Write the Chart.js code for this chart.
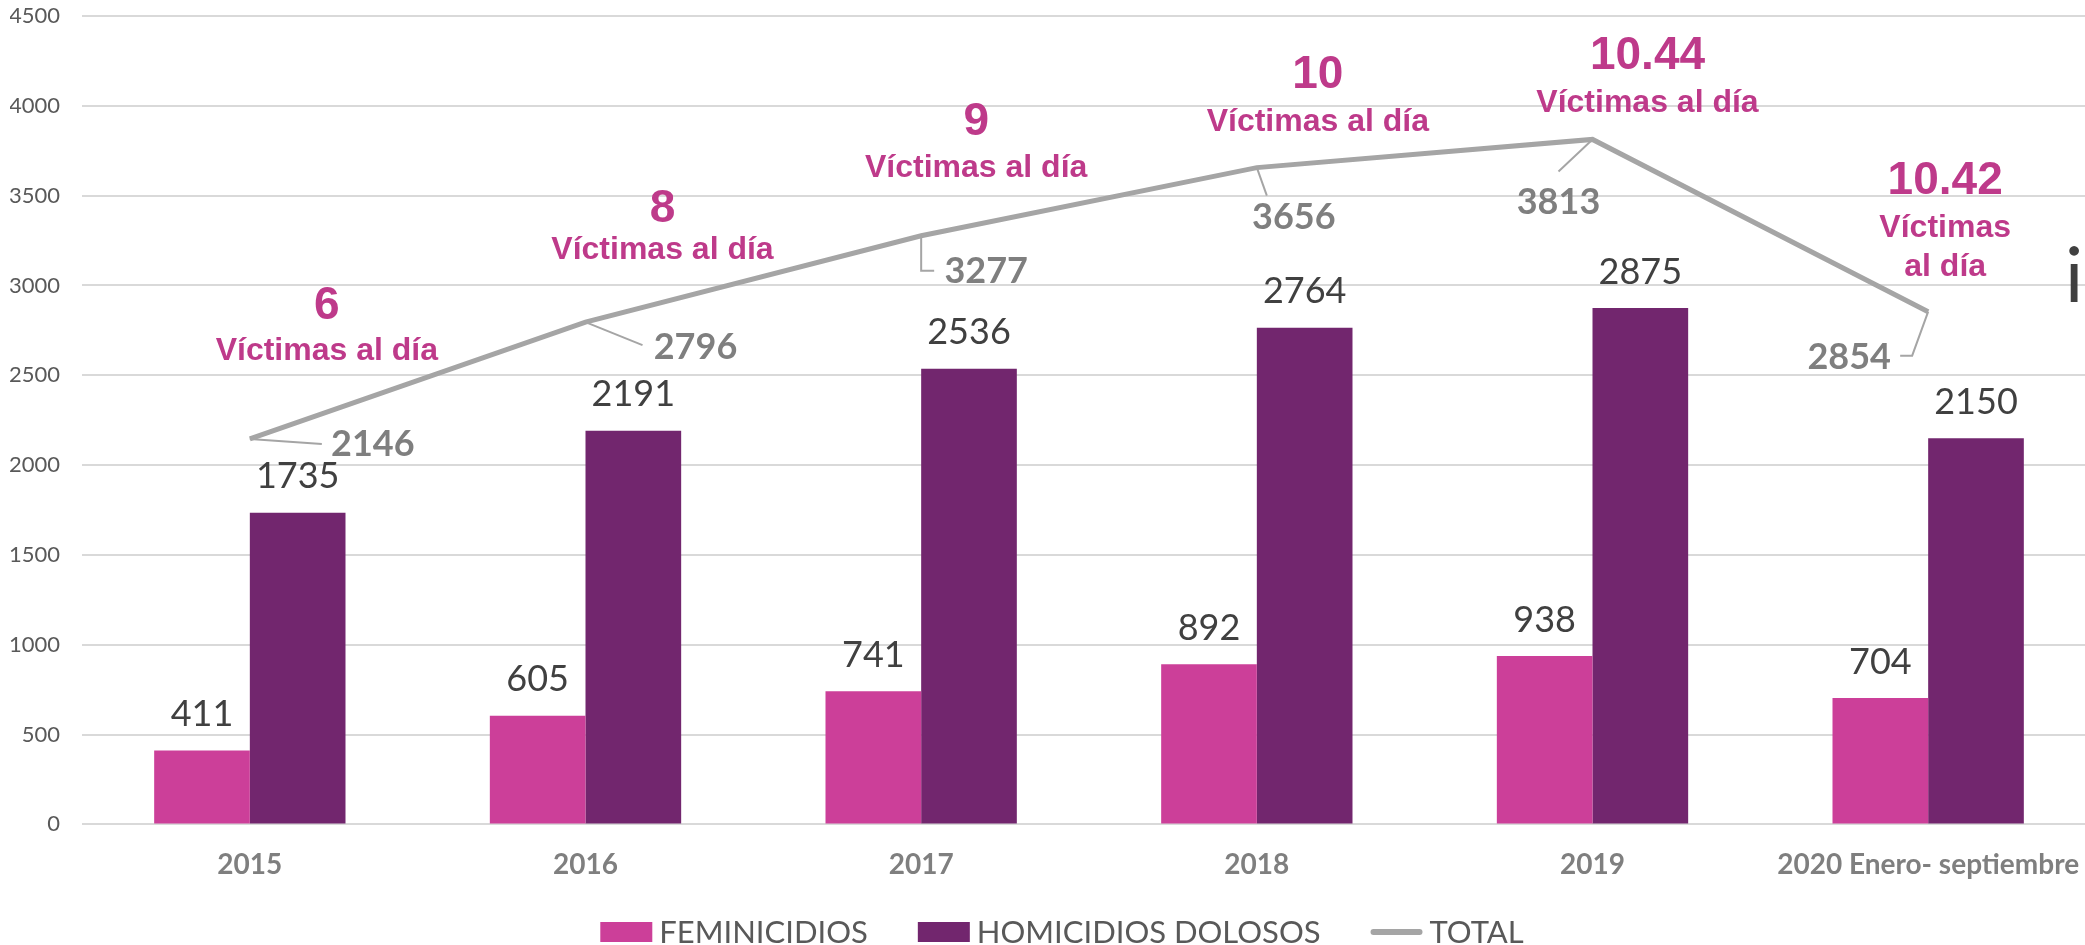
<!DOCTYPE html>
<html>
<head>
<meta charset="utf-8">
<script src="https://cdn.jsdelivr.net/npm/chart.js@4.4.0/dist/chart.umd.min.js"></script>
<style>
  html, body { margin: 0; padding: 0; background: #fff; overflow: hidden; }
  #wrap { width: 2100px; height: 945px; }
</style>
</head>
<body>
<div id="wrap"><canvas id="chart"></canvas></div>
<script>
const years = ['2015', '2016', '2017', '2018', '2019', '2020 Enero- septiembre'];
const feminicidios = [411, 605, 741, 892, 938, 704];
const homicidios = [1735, 2191, 2536, 2764, 2875, 2150];
const totals = [2146, 2796, 3277, 3656, 3813, 2854];
const victimasDia = ['6', '8', '9', '10', '10.44', '10.42'];
const victimasText = [
  ['Víctimas al día'], ['Víctimas al día'], ['Víctimas al día'],
  ['Víctimas al día'], ['Víctimas al día'], ['Víctimas', 'al día']
];

const PINK = '#CC3F99';
const PURPLE = '#72266E';
const GREY_LINE = '#A5A5A5';
const MAGENTA = '#BE3A8A';

// where each annotation sits relative to its TOTAL point
const victimLayout = [
  { dx: 77, big: -133, lines: [-88] },
  { dx: 77, big: -113, lines: [-72] },
  { dx: 55, big: -113, lines: [-68] },
  { dx: 61, big: -92, lines: [-45] },
  { dx: 55, big: -83, lines: [-36] },
  { dx: 17, big: -130, lines: [-84, -45] }
];
const totalLayout = [
  { leader: [[72, 5]], dx: 123, dy: 6 },
  { leader: [[57, 23]], dx: 110, dy: 25 },
  { leader: [[0, 35], [13, 35]], dx: 65, dy: 36 },
  { leader: [[10, 28]], dx: 37, dy: 50 },
  { leader: [[-34, 32]], dx: -34, dy: 63 },
  { leader: [[-16, 44], [-28, 44]], dx: -79, dy: 46 }
];

const labelsPlugin = {
  id: 'labels',
  afterDatasetsDraw(chart) {
    const ctx = chart.ctx;
    const fem = chart.getDatasetMeta(0).data;
    const hom = chart.getDatasetMeta(1).data;
    const tot = chart.getDatasetMeta(2).data;
    ctx.save();
    ctx.textAlign = 'center';
    ctx.textBaseline = 'middle';

    // bar values
    ctx.font = '36px Lato';
    ctx.fillStyle = '#404040';
    fem.forEach((b, i) => ctx.fillText(String(feminicidios[i]), b.x, b.y - 36));
    hom.forEach((b, i) => ctx.fillText(String(homicidios[i]), b.x, b.y - 36));

    // total values with leader lines
    ctx.strokeStyle = GREY_LINE;
    ctx.lineWidth = 2;
    ctx.font = 'bold 36px Lato';
    ctx.fillStyle = '#7F7F7F';
    tot.forEach((p, i) => {
      const l = totalLayout[i];
      ctx.beginPath();
      ctx.moveTo(p.x, p.y);
      l.leader.forEach(([dx, dy]) => ctx.lineTo(p.x + dx, p.y + dy));
      ctx.stroke();
      ctx.fillText(String(totals[i]), p.x + l.dx, p.y + l.dy);
    });

    // victims per day
    ctx.fillStyle = MAGENTA;
    tot.forEach((p, i) => {
      const l = victimLayout[i];
      ctx.font = 'bold 46px "Liberation Sans"';
      ctx.fillText(victimasDia[i], p.x + l.dx, p.y + l.big);
      ctx.font = 'bold 32px "Liberation Sans"';
      victimasText[i].forEach((t, k) => ctx.fillText(t, p.x + l.dx, p.y + l.lines[k]));
    });

    // cut-off text box at the right edge
    ctx.textAlign = 'left';
    ctx.textBaseline = 'alphabetic';
    ctx.font = '76px Lato';
    ctx.fillStyle = '#404040';
    ctx.fillText('i', 2065, 302);
    ctx.restore();
  }
};

const legendPlugin = {
  id: 'bottomLegend',
  afterDraw(chart) {
    const ctx = chart.ctx;
    const items = [
      { kind: 'box', color: PINK, text: 'FEMINICIDIOS' },
      { kind: 'box', color: PURPLE, text: 'HOMICIDIOS DOLOSOS' },
      { kind: 'line', color: GREY_LINE, text: 'TOTAL' }
    ];
    ctx.save();
    ctx.font = '31px Lato';
    ctx.textBaseline = 'middle';
    ctx.textAlign = 'left';
    const sw = 52, gap = 7, spacing = 50;
    let total = 0;
    items.forEach((it, i) => {
      it.w = ctx.measureText(it.text).width;
      total += sw + gap + it.w + (i ? spacing : 0);
    });
    let x = chart.width / 2 + 12 - total / 2;
    const y = 932;
    items.forEach(it => {
      if (it.kind === 'box') {
        ctx.fillStyle = it.color;
        ctx.fillRect(x, y - 10, sw, 20);
      } else {
        ctx.strokeStyle = it.color;
        ctx.lineWidth = 6;
        ctx.lineCap = 'round';
        ctx.beginPath();
        ctx.moveTo(x + 3, y);
        ctx.lineTo(x + sw - 3, y);
        ctx.stroke();
      }
      ctx.fillStyle = '#595959';
      ctx.fillText(it.text, x + sw + gap, y + 1);
      x += sw + gap + it.w + spacing;
    });
    ctx.restore();
  }
};

new Chart(document.getElementById('chart'), {
  type: 'bar',
  data: {
    labels: years,
    datasets: [
      {
        label: 'FEMINICIDIOS',
        data: feminicidios,
        backgroundColor: PINK,
        categoryPercentage: 0.57,
        barPercentage: 1.0,
        order: 1
      },
      {
        label: 'HOMICIDIOS DOLOSOS',
        data: homicidios,
        backgroundColor: PURPLE,
        categoryPercentage: 0.57,
        barPercentage: 1.0,
        order: 1
      },
      {
        type: 'line',
        label: 'TOTAL',
        data: totals,
        borderColor: GREY_LINE,
        borderWidth: 5,
        pointRadius: 0,
        fill: false,
        tension: 0,
        order: 0
      }
    ]
  },
  options: {
    responsive: true,
    maintainAspectRatio: false,
    animation: false,
    layout: { padding: { left: 10, right: 4, top: 16, bottom: 47 } },
    plugins: {
      legend: { display: false },
      tooltip: { enabled: false }
    },
    scales: {
      x: {
        offset: true,
        grid: { display: false },
        border: { display: false },
        ticks: {
          color: '#7F7F7F',
          font: { family: 'Lato', size: 28, weight: 'bold' },
          padding: 16,
          maxRotation: 0,
          autoSkip: false
        }
      },
      y: {
        min: 0,
        max: 4500,
        afterFit(scale) {
          scale.width = 72;
          scale.paddingTop = 0;
          scale.paddingBottom = 0;
        },
        grid: { color: '#D9D9D9', lineWidth: 2, drawTicks: false },
        border: { display: false },
        ticks: {
          stepSize: 500,
          color: '#595959',
          font: { family: 'Lato', size: 22 },
          padding: 22,
          callback: v => String(v)
        }
      }
    }
  },
  plugins: [labelsPlugin, legendPlugin]
});
</script>
</body>
</html>
